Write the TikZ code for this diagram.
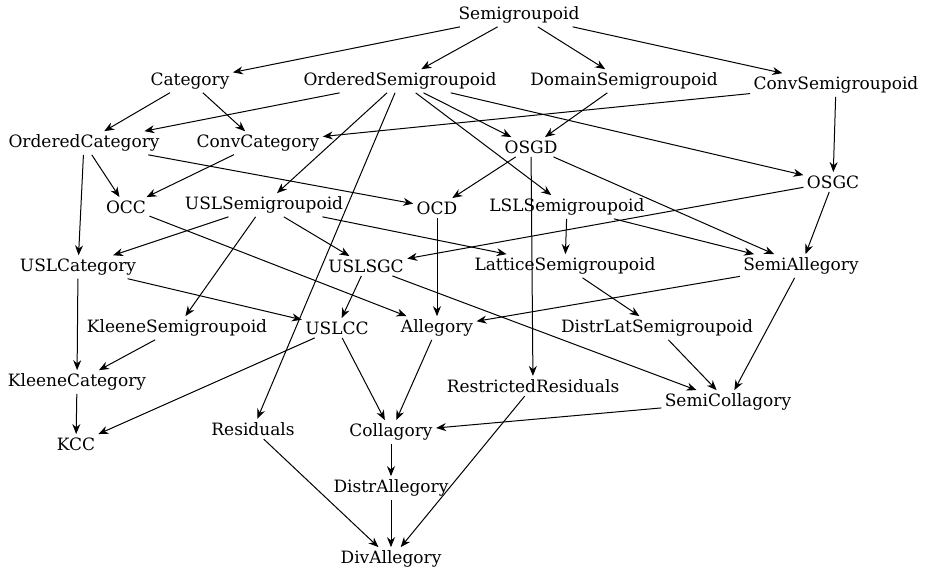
\documentclass[tikz,border=0pt]{standalone}
\usepackage{fontspec}
\setmainfont{DejaVu Serif}
\usetikzlibrary{arrows.meta}

\begin{document}
\begin{tikzpicture}[x=1pt, y=-1pt, >={Stealth[length=10pt,width=8pt]}, line width=1pt,
    every node/.style={inner sep=3pt, font=\fontsize{17}{20}\selectfont}]
    \useasboundingbox (0,0) rectangle (928,572);

    \node (SG) at (519,15) {Semigroupoid};
    \node (Cat) at (190,81) {Category};
    \node (OSG) at (400,81) {OrderedSemigroupoid};
    \node (DSG) at (624,81) {DomainSemigroupoid};
    \node (CSG) at (836,85) {ConvSemigroupoid};
    \node (OCat) at (84,143) {OrderedCategory};
    \node (CCat) at (258,143) {ConvCategory};
    \node (OSGD) at (531,147) {OSGD};
    \node (OSGC) at (833,182) {OSGC};
    \node (OCC) at (126,207) {OCC};
    \node (USLSG) at (264,205) {USLSemigroupoid};
    \node (OCD) at (437,208) {OCD};
    \node (LSLSG) at (567,207) {LSLSemigroupoid};
    \node (USLCat) at (78,267) {USLCategory};
    \node (USLSGC) at (366,266) {USLSGC};
    \node (LatSG) at (565,266) {LatticeSemigroupoid};
    \node (SA) at (801,266) {SemiAllegory};
    \node (KSG) at (177,328) {KleeneSemigroupoid};
    \node (USLCC) at (337,328) {USLCC};
    \node (All) at (437,328) {Allegory};
    \node (DLSG) at (657,328) {DistrLatSemigroupoid};
    \node (KCat) at (77,382) {KleeneCategory};
    \node (RR) at (533,386) {RestrictedResiduals};
    \node (SC) at (728,402) {SemiCollagory};
    \node (KCC) at (76,444) {KCC};
    \node (Res) at (253,429) {Residuals};
    \node (Coll) at (391,432) {Collagory};
    \node (DA) at (391,488) {DistrAllegory};
    \node (DivA) at (391,559) {DivAllegory};

    \draw[->] (SG) -- (Cat);
    \draw[->] (SG) -- (OSG);
    \draw[->] (SG) -- (DSG);
    \draw[->] (SG) -- (CSG);
    \draw[->] (Cat) -- (OCat);
    \draw[->] (Cat) -- (CCat);
    \draw[->] (OSG) -- (OCat);
    \draw[->] (OSG) -- (OSGD);
    \draw[->] (OSG) -- (OSGC);
    \draw[->] (OSG) -- (USLSG);
    \draw[->] (OSG) -- (Res);
    \draw[->] (OSG) -- (LSLSG);
    \draw[->] (DSG) -- (OSGD);
    \draw[->] (CSG) -- (CCat);
    \draw[->] (CSG) -- (OSGC);
    \draw[->] (OCat) -- (OCC);
    \draw[->] (OCat) -- (USLCat);
    \draw[->] (OCat) -- (OCD);
    \draw[->] (CCat) -- (OCC);
    \draw[->] (OSGD) -- (OCD);
    \draw[->] (OSGD) -- (RR);
    \draw[->] (OSGD) -- (SA);
    \draw[->] (OSGC) -- (USLSGC);
    \draw[->] (OSGC) -- (SA);
    \draw[->] (OCC) -- (All);
    \draw[->] (USLSG) -- (USLCat);
    \draw[->] (USLSG) -- (USLSGC);
    \draw[->] (USLSG) -- (KSG);
    \draw[->] (USLSG) -- (LatSG);
    \draw[->] (OCD) -- (All);
    \draw[->] (LSLSG) -- (LatSG);
    \draw[->] (LSLSG) -- (SA);
    \draw[->] (USLCat) -- (KCat);
    \draw[->] (USLCat) -- (USLCC);
    \draw[->] (USLSGC) -- (USLCC);
    \draw[->] (USLSGC) -- (SC);
    \draw[->] (LatSG) -- (DLSG);
    \draw[->] (SA) -- (All);
    \draw[->] (SA) -- (SC);
    \draw[->] (KSG) -- (KCat);
    \draw[->] (USLCC) -- (KCC);
    \draw[->] (USLCC) -- (Coll);
    \draw[->] (All) -- (Coll);
    \draw[->] (DLSG) -- (SC);
    \draw[->] (KCat) -- (KCC);
    \draw[->] (RR) -- (DivA);
    \draw[->] (SC) -- (Coll);
    \draw[->] (Coll) -- (DA);
    \draw[->] (Res) -- (DivA);
    \draw[->] (DA) -- (DivA);
\end{tikzpicture}
\end{document}
